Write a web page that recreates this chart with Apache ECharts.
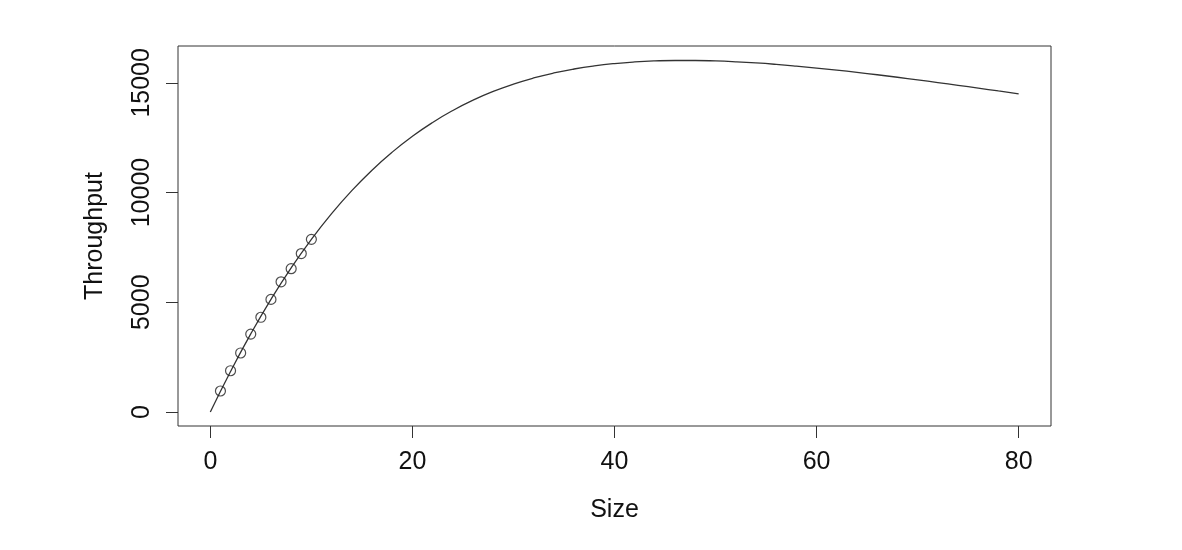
<!DOCTYPE html>
<html>
<head>
<meta charset="utf-8">
<title>Throughput vs Size</title>
<script src="https://cdn.jsdelivr.net/npm/echarts@6/dist/echarts.min.js"></script>
<style>
  html, body { margin: 0; padding: 0; background: #fff; }
  #chart { width: 1182px; height: 550px; }
</style>
</head>
<body>
<div id="chart"></div>
<script>
// measured points
const sizes = [1, 2, 3, 4, 5, 6, 7, 8, 9, 10]
const throughput = [955, 1879, 2688, 3549, 4316, 5130, 5931, 6531, 7220, 7868]

// fitted curve, every 2 units
const curveX = [0, 2, 4, 6, 8, 10, 12, 14, 16, 18, 20, 22, 24, 26, 28, 30, 32, 34, 36, 38, 40,
  42, 44, 46, 48, 50, 52, 54, 56, 58, 60, 62, 64, 66, 68, 70, 72, 74, 76, 78, 80]
const curveY = [0, 1847, 3558, 5131, 6567, 7868, 9040, 10088, 11020, 11843, 12566,
  13196, 13741, 14210, 14608, 14943, 15222, 15450, 15632, 15774, 15880,
  15954, 16000, 16020, 16019, 15998, 15959, 15907, 15841, 15763, 15676,
  15581, 15478, 15369, 15255, 15136, 15014, 14889, 14761, 14631, 14500]

const xTicks = [0, 20, 40, 60, 80]
const yTicks = [0, 5000, 10000, 15000]

const ink = '#333'
const font = 'Liberation Sans, Arial, Helvetica, sans-serif'

const chart = echarts.init(document.getElementById('chart'))

const option = {
    animation: false,
    grid: {
        left: 178,
        right: 131,
        top: 46,
        bottom: 124,
        show: true,
        borderColor: ink,
        borderWidth: 1
    },
    xAxis: {
        type: 'value',
        min: -3.2,
        max: 83.2,
        name: 'Size',
        nameLocation: 'middle',
        nameGap: 72,
        nameTextStyle: { fontSize: 25, color: '#111', fontFamily: font },
        splitLine: { show: false },
        axisLine: { show: false, onZero: false },
        axisTick: {
            show: true,
            length: 12,
            customValues: xTicks,
            lineStyle: { color: ink, width: 1 }
        },
        axisLabel: {
            customValues: xTicks,
            margin: 24,
            fontSize: 25,
            color: '#111',
            fontFamily: font
        }
    },
    yAxis: {
        type: 'value',
        min: -640,
        max: 16680,
        name: 'Throughput',
        nameLocation: 'middle',
        nameRotate: 90,
        nameGap: 70,
        nameTextStyle: { fontSize: 25, color: '#111', fontFamily: font },
        splitLine: { show: false },
        axisLine: { show: false, onZero: false },
        axisTick: {
            show: true,
            length: 12,
            customValues: yTicks,
            lineStyle: { color: ink, width: 1 }
        },
        axisLabel: {
            customValues: yTicks,
            formatter: v => String(v),
            rotate: 90,
            margin: 23,
            fontSize: 25,
            color: '#111',
            fontFamily: font
        }
    },
    series: [
        {
            type: 'line',
            data: curveX.map((x, i) => [x, curveY[i]]),
            smooth: true,
            showSymbol: false,
            lineStyle: { color: ink, width: 1.3 },
            z: 2
        },
        {
            type: 'scatter',
            data: sizes.map((x, i) => [x, throughput[i]]),
            symbol: 'circle',
            symbolSize: 10,
            itemStyle: {
                color: 'rgba(0,0,0,0)',
                borderColor: '#222',
                borderWidth: 1.2
            },
            z: 3
        }
    ]
}

chart.setOption(option)
</script>
</body>
</html>
